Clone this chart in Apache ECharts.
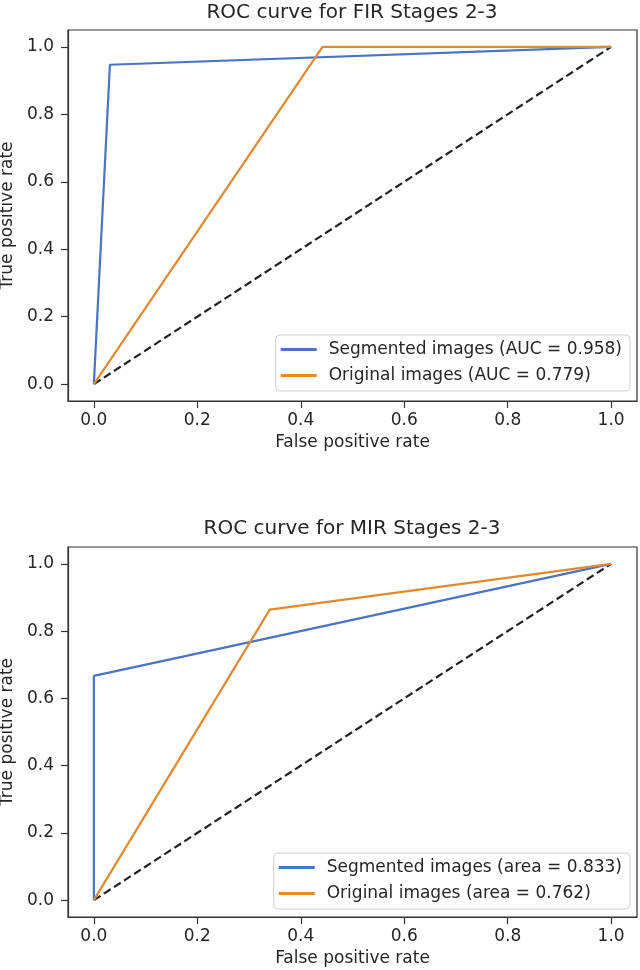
<!DOCTYPE html>
<html>
<head>
<meta charset="utf-8">
<script src="https://cdn.jsdelivr.net/npm/echarts@6/dist/echarts.min.js"></script>
<style>
html,body{margin:0;padding:0;background:#fff;}
#main{width:640px;height:970px;}
</style>
</head>
<body>
<div id="main"></div>
<script>
// ---- data ----
const titles = ['ROC curve for FIR Stages 2-3', 'ROC curve for MIR Stages 2-3'];
const xAxisName = 'False positive rate';
const yAxisName = 'True positive rate';
const tickValues = [0, 0.2, 0.4, 0.6, 0.8, 1.0];

const firSegNames = 'Segmented images (AUC = 0.958)';
const firOrigNames = 'Original images (AUC = 0.779)';
const firSegFpr = [0, 0.031, 1];
const firSegTpr = [0, 0.947, 1];
const firOrigFpr = [0, 0.442, 1];
const firOrigTpr = [0, 1.0, 1];

const mirSegNames = 'Segmented images (area = 0.833)';
const mirOrigNames = 'Original images (area = 0.762)';
const mirSegFpr = [0, 0, 1];
const mirSegTpr = [0, 0.667, 1];
const mirOrigFpr = [0, 0.34, 1];
const mirOrigTpr = [0, 0.864, 1];

const chanceFpr = [0, 1];
const chanceTpr = [0, 1];

// ---- build ----
const zip = (xs, ys) => xs.map((x, i) => [x, ys[i]]);
const FONT = 'DejaVu Sans';
const TXT = '#262626';
const BLUE = '#4a74c2';
const ORANGE = '#e0892e';

const grids = [
  {left: 68, top: 30, width: 569, height: 371},
  {left: 68, top: 547, width: 569, height: 370}
];

function xAx(i) {
  return {
    type: 'value', gridIndex: i, min: -0.05, max: 1.05,
    name: xAxisName, nameLocation: 'middle', nameGap: 33,
    nameTextStyle: {fontFamily: FONT, fontSize: 17, color: TXT},
    axisLine: {show: true, onZero: false, lineStyle: {color: '#333', width: 1.2}},
    axisTick: {show: true, length: 7, lineStyle: {color: '#333', width: 1.2}, customValues: tickValues},
    axisLabel: {fontFamily: FONT, fontSize: 17, color: TXT, margin: 11,
      customValues: tickValues, formatter: v => v.toFixed(1)},
    splitLine: {show: false}
  };
}
function yAx(i) {
  return {
    type: 'value', gridIndex: i, min: -0.05, max: 1.05,
    name: yAxisName, nameLocation: 'middle', nameGap: 45,
    nameTextStyle: {fontFamily: FONT, fontSize: 17, color: TXT},
    axisLine: {show: true, onZero: false, lineStyle: {color: '#333', width: 1.2}},
    axisTick: {show: true, length: 7, lineStyle: {color: '#333', width: 1.2}, customValues: tickValues},
    axisLabel: {fontFamily: FONT, fontSize: 17, color: TXT, margin: 14,
      customValues: tickValues, formatter: v => v.toFixed(1)},
    splitLine: {show: false}
  };
}
function line(name, i, data, color, dashed) {
  return {
    type: 'line', name: name, xAxisIndex: i, yAxisIndex: i,
    data: data, symbol: 'none', color: color, animation: false,
    lineStyle: {color: color, width: 2.2, type: dashed ? [8, 4] : 'solid'},
    z: dashed ? 1 : 2
  };
}
function legend(names, top) {
  return {
    data: names, orient: 'vertical', right: 10, top: top,
    icon: 'rect', itemWidth: 36, itemHeight: 3, itemGap: 9,
    padding: [6, 8, 7, 5],
    backgroundColor: 'rgba(255,255,255,0.9)', borderColor: '#cfcfcf', borderWidth: 1, borderRadius: 4,
    textStyle: {fontFamily: FONT, fontSize: 17, color: TXT, padding: [0, 0, 0, 7]}
  };
}

const option = {
  animation: false,
  backgroundColor: '#fff',
  title: titles.map((t, i) => ({
    text: t, left: 352, textAlign: 'center', top: i === 0 ? 3 : 519, padding: 0,
    textStyle: {fontFamily: FONT, fontSize: 20, fontWeight: 'normal', color: TXT}
  })),
  grid: grids.map(g => Object.assign({show: true, containLabel: false, outerBoundsMode: 'none',
    borderColor: '#333', borderWidth: 1.2, backgroundColor: 'transparent'}, g)),
  xAxis: [xAx(0), xAx(1)],
  yAxis: [yAx(0), yAx(1)],
  legend: [legend([firSegNames, firOrigNames], 335), legend([mirSegNames, mirOrigNames], 853)],
  series: [
    line('chance1', 0, zip(chanceFpr, chanceTpr), '#222', true),
    line(firSegNames, 0, zip(firSegFpr, firSegTpr), BLUE, false),
    line(firOrigNames, 0, zip(firOrigFpr, firOrigTpr), ORANGE, false),
    line('chance2', 1, zip(chanceFpr, chanceTpr), '#222', true),
    line(mirSegNames, 1, zip(mirSegFpr, mirSegTpr), BLUE, false),
    line(mirOrigNames, 1, zip(mirOrigFpr, mirOrigTpr), ORANGE, false)
  ]
};
const chart = echarts.init(document.getElementById('main'), null, {renderer: 'canvas'});
chart.setOption(option);
</script>
</body>
</html>
